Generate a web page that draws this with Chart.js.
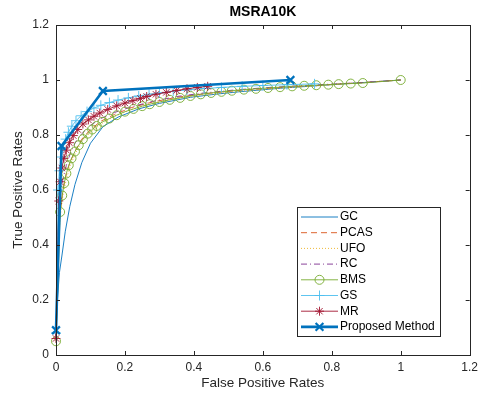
<!DOCTYPE html>
<html>
<head>
<meta charset="utf-8">
<script src="https://cdn.jsdelivr.net/npm/chart.js@4/dist/chart.umd.min.js"></script>
<style>
html,body{margin:0;padding:0;background:#fff;}
#wrap{width:483px;height:396px;position:relative;}
</style>
</head>
<body>
<div id="wrap"><canvas id="c" width="483" height="396"></canvas></div>
<script>
const chartTitle = "MSRA10K";
const xAxisTitle = "False Positive Rates";
const yAxisTitle = "True Positive Rates";
const seriesNames = ["GC", "PCAS", "UFO", "RC", "BMS", "GS", "MR", "Proposed Method"];
const xTicks = [0, 0.2, 0.4, 0.6, 0.8, 1, 1.2];
const yTicks = [0, 0.2, 0.4, 0.6, 0.8, 1, 1.2];

const gcX = [0, 0.004, 0.01, 0.017, 0.027, 0.04, 0.055, 0.075, 0.1, 0.136, 0.18, 0.24, 0.3, 0.39, 0.46, 0.53, 0.65, 0.8, 1];
const gcY = [0.07, 0.2, 0.3, 0.36, 0.45, 0.54, 0.62, 0.7, 0.77, 0.83, 0.865, 0.895, 0.915, 0.937, 0.948, 0.957, 0.97, 0.983, 1];

const pcasX = [0, 0.006, 0.012, 0.02, 0.03, 0.042, 0.057, 0.075, 0.1, 0.13, 0.17, 0.22, 0.28, 0.35, 0.43, 0.52, 0.62, 0.75, 0.88, 1];
const pcasY = [0.06, 0.4, 0.52, 0.6, 0.66, 0.705, 0.745, 0.785, 0.82, 0.85, 0.875, 0.9, 0.92, 0.937, 0.95, 0.961, 0.97, 0.98, 0.99, 1];

const ufoX = [0, 0.006, 0.012, 0.02, 0.03, 0.042, 0.057, 0.075, 0.1, 0.13, 0.17, 0.22, 0.28, 0.35, 0.43, 0.52, 0.62, 0.75, 0.88, 1];
const ufoY = [0.06, 0.38, 0.5, 0.58, 0.64, 0.69, 0.735, 0.775, 0.81, 0.84, 0.868, 0.893, 0.913, 0.932, 0.946, 0.958, 0.968, 0.978, 0.989, 1];

const rcX = [0, 0.006, 0.012, 0.02, 0.03, 0.042, 0.057, 0.075, 0.1, 0.13, 0.17, 0.22, 0.28, 0.35, 0.43, 0.52, 0.62, 0.75, 0.88, 1];
const rcY = [0.06, 0.45, 0.57, 0.64, 0.69, 0.735, 0.775, 0.805, 0.835, 0.86, 0.882, 0.903, 0.922, 0.94, 0.953, 0.964, 0.973, 0.982, 0.99, 1];

const bmsX = [0, 0.012, 0.018, 0.024, 0.03, 0.037, 0.045, 0.055, 0.066, 0.078, 0.092, 0.105, 0.118, 0.135, 0.155, 0.176, 0.2, 0.225, 0.25, 0.272, 0.3, 0.33, 0.36, 0.39, 0.42, 0.45, 0.48, 0.51, 0.545, 0.58, 0.615, 0.65, 0.685, 0.72, 0.755, 0.79, 0.82, 0.855, 0.89, 1.0];
const bmsY = [0.05, 0.52, 0.58, 0.625, 0.66, 0.69, 0.715, 0.74, 0.763, 0.785, 0.805, 0.82, 0.833, 0.848, 0.86, 0.872, 0.885, 0.895, 0.905, 0.912, 0.92, 0.928, 0.935, 0.942, 0.948, 0.953, 0.957, 0.961, 0.965, 0.968, 0.971, 0.974, 0.977, 0.979, 0.981, 0.983, 0.985, 0.987, 0.989, 1.0];

const gsX = [0, 0.006, 0.01, 0.015, 0.021, 0.028, 0.036, 0.046, 0.058, 0.073, 0.09, 0.11, 0.13, 0.155, 0.18, 0.21, 0.24, 0.27, 0.3, 0.34, 0.38, 0.43, 0.48, 0.54, 0.6, 0.67, 0.75];
const gsY = [0.08, 0.6, 0.67, 0.72, 0.755, 0.785, 0.81, 0.832, 0.852, 0.87, 0.885, 0.898, 0.908, 0.918, 0.927, 0.935, 0.942, 0.948, 0.953, 0.959, 0.964, 0.969, 0.973, 0.977, 0.98, 0.983, 0.986];

const mrX = [0, 0.008, 0.012, 0.017, 0.023, 0.03, 0.039, 0.05, 0.063, 0.078, 0.094, 0.11, 0.127, 0.15, 0.176, 0.2, 0.223, 0.245, 0.263, 0.29, 0.32, 0.35, 0.38, 0.41, 0.44];
const mrY = [0.06, 0.56, 0.63, 0.68, 0.715, 0.745, 0.772, 0.798, 0.82, 0.84, 0.855, 0.868, 0.88, 0.893, 0.906, 0.916, 0.925, 0.933, 0.94, 0.948, 0.955, 0.962, 0.968, 0.973, 0.977];

const propX = [0, 0.016, 0.136, 0.68];
const propY = [0.09, 0.76, 0.96, 1.0];

const toPts = (xs, ys) => xs.map((x, i) => ({x: x, y: ys[i]}));

const styles = [
  {color: '#0072BD', width: 0.9, dash: [], marker: false, radius: 0},
  {color: '#D95319', width: 0.9, dash: [6, 4], marker: false, radius: 0},
  {color: '#EDB120', width: 0.9, dash: [1, 2], marker: false, radius: 0},
  {color: '#7E2F8E', width: 0.9, dash: [6, 3, 1, 3], marker: false, radius: 0},
  {color: '#77AC30', width: 0.9, dash: [], marker: 'circle', radius: 4.5},
  {color: '#4DBEEE', width: 0.9, dash: [], marker: 'cross', radius: 5},
  {color: '#A2142F', width: 0.9, dash: [], marker: 'star', radius: 4.5},
  {color: '#0072BD', width: 2.6, dash: [], marker: 'crossRot', radius: 5.5}
];
const seriesData = [toPts(gcX, gcY), toPts(pcasX, pcasY), toPts(ufoX, ufoY), toPts(rcX, rcY),
  toPts(bmsX, bmsY), toPts(gsX, gsY), toPts(mrX, mrY), toPts(propX, propY)];

const datasets = seriesData.map((d, i) => {
  const s = styles[i];
  return {
    label: seriesNames[i],
    data: d,
    showLine: true,
    borderColor: s.color,
    backgroundColor: 'rgba(0,0,0,0)',
    borderWidth: s.width,
    borderDash: s.dash,
    pointStyle: s.marker || 'circle',
    pointRadius: s.marker ? s.radius : 0,
    pointHoverRadius: s.marker ? s.radius : 0,
    pointBorderColor: s.color,
    pointBackgroundColor: 'rgba(0,0,0,0)',
    pointBorderWidth: i === 7 ? 2.2 : 0.9,
    tension: 0,
    clip: false,
    order: seriesNames.length - i
  };
});

const AX = '#262626';
const fmt = v => String(+v.toFixed(1));

const boxPlugin = {
  id: 'matlabBox',
  afterDraw(chart) {
    const {ctx, chartArea: a} = chart;
    const xs = chart.scales.x, ys = chart.scales.y;
    ctx.save();
    ctx.strokeStyle = AX;
    ctx.lineWidth = 1;
    ctx.setLineDash([]);
    ctx.strokeRect(Math.round(a.left) + 0.5, Math.round(a.top) + 0.5, Math.round(a.right - a.left), Math.round(a.bottom - a.top));
    const tl = 4;
    ctx.beginPath();
    xTicks.forEach(v => {
      const px = Math.round(xs.getPixelForValue(v)) + 0.5;
      ctx.moveTo(px, a.bottom); ctx.lineTo(px, a.bottom - tl);
      ctx.moveTo(px, a.top); ctx.lineTo(px, a.top + tl);
    });
    yTicks.forEach(v => {
      const py = Math.round(ys.getPixelForValue(v)) + 0.5;
      ctx.moveTo(a.left, py); ctx.lineTo(a.left + tl, py);
      ctx.moveTo(a.right, py); ctx.lineTo(a.right - tl, py);
    });
    ctx.stroke();

    // title
    ctx.fillStyle = '#000';
    ctx.font = 'bold 14px "Liberation Sans", Arial, sans-serif';
    ctx.textAlign = 'center';
    ctx.textBaseline = 'middle';
    ctx.fillText(chartTitle, (a.left + a.right) / 2, 12);

    // legend
    ctx.font = '12px "Liberation Sans", Arial, sans-serif';
    const textX = 340;
    let maxW = 0;
    seriesNames.forEach(n => { maxW = Math.max(maxW, ctx.measureText(n).width); });
    const L = 297, T = 207, R = Math.round(textX + maxW + 5), B = 336;
    ctx.fillStyle = '#fff';
    ctx.fillRect(L, T, R - L, B - T);
    ctx.strokeStyle = AX;
    ctx.lineWidth = 1;
    ctx.strokeRect(L + 0.5, T + 0.5, R - L, B - T);
    ctx.textAlign = 'left';
    ctx.textBaseline = 'middle';
    seriesNames.forEach((name, i) => {
      const s = styles[i];
      const y = T + 10 + i * 15.7;
      const x0 = L + 4, x1 = textX - 2;
      ctx.save();
      ctx.strokeStyle = s.color;
      ctx.lineWidth = s.width;
      ctx.setLineDash(s.dash);
      ctx.beginPath();
      ctx.moveTo(x0, y); ctx.lineTo(x1, y);
      ctx.stroke();
      ctx.restore();
      if (s.marker) {
        ctx.save();
        ctx.strokeStyle = s.color;
        ctx.fillStyle = 'rgba(0,0,0,0)';
        ctx.lineWidth = i === 7 ? 2.2 : 0.9;
        ctx.setLineDash([]);
        Chart.helpers.drawPoint(ctx, {pointStyle: s.marker, radius: s.radius, rotation: 0, borderWidth: ctx.lineWidth}, (x0 + x1) / 2, y);
        ctx.restore();
      }
      ctx.fillStyle = '#000';
      ctx.fillText(name, textX, y);
    });
    ctx.restore();
  }
};

new Chart(document.getElementById('c'), {
  type: 'scatter',
  data: {datasets: datasets},
  plugins: [boxPlugin],
  options: {
    responsive: false,
    animation: false,
    events: [],
    layout: {padding: {top: 25, right: 12, left: 0, bottom: 0}},
    plugins: {legend: {display: false}, title: {display: false}, tooltip: {enabled: false}},
    scales: {
      x: {
        type: 'linear', min: 0, max: 1.2,
        afterBuildTicks: s => { s.ticks = xTicks.map(v => ({value: v})); },
        afterFit: s => { s.height = 41; },
        grid: {display: false, drawTicks: false},
        border: {display: false},
        ticks: {callback: v => fmt(v), color: AX, padding: 5, maxRotation: 0, autoSkip: false,
          font: {family: '"Liberation Sans", Arial, sans-serif', size: 12}},
        title: {display: true, text: xAxisTitle, color: AX, padding: {top: 0, bottom: 5},
          font: {family: '"Liberation Sans", Arial, sans-serif', size: 13.5}}
      },
      y: {
        type: 'linear', min: 0, max: 1.2,
        afterBuildTicks: s => { s.ticks = yTicks.map(v => ({value: v})); },
        afterFit: s => { s.width = 56; },
        grid: {display: false, drawTicks: false},
        border: {display: false},
        ticks: {callback: v => fmt(v), color: AX, padding: 7, autoSkip: false,
          font: {family: '"Liberation Sans", Arial, sans-serif', size: 12}},
        title: {display: true, text: yAxisTitle, color: AX, padding: {top: 10, bottom: 0},
          font: {family: '"Liberation Sans", Arial, sans-serif', size: 13.5}}
      }
    }
  }
});
</script>
</body>
</html>
